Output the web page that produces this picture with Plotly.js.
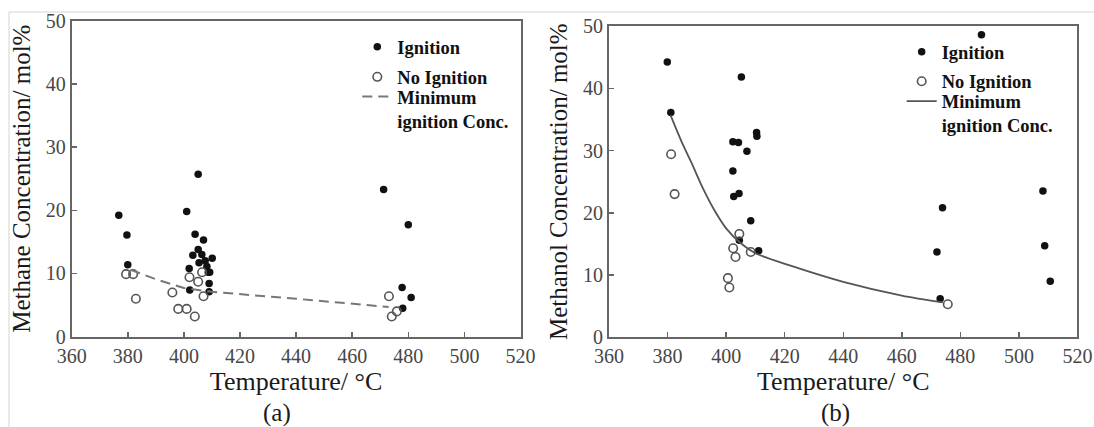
<!DOCTYPE html>
<html>
<head>
<meta charset="utf-8">
<script src="https://cdn.plot.ly/plotly-3.0.1.min.js"></script>
<style>html,body{margin:0;padding:0;background:#fff;}#chart{width:1094px;height:427px;}</style>
</head>
<body>
<div id="chart"></div>
<script>
// ---- Data ----
// (a) Methane
var methaneIgnitionT = [376.8, 379.7, 380.0, 401.0, 405.1, 404.0, 407.0, 403.2, 405.1, 406.4, 405.4, 407.6, 410.1, 408.2, 408.7, 409.2, 401.9, 409.0, 402.1, 409.0, 471.2, 480.0, 477.8, 481.0, 478.0];
var methaneIgnitionC = [19.2, 16.1, 11.4, 19.8, 25.7, 16.2, 15.3, 12.9, 13.8, 13.0, 11.7, 12.0, 12.4, 11.1, 10.2, 10.2, 10.8, 8.4, 7.4, 7.1, 23.3, 17.7, 7.8, 6.2, 4.5];
var methaneNoIgnitionT = [379.4, 381.9, 382.9, 395.9, 398.0, 401.0, 403.9, 402.0, 405.1, 406.5, 407.0, 473.1, 474.1, 475.9];
var methaneNoIgnitionC = [9.9, 9.9, 6.0, 7.0, 4.4, 4.4, 3.2, 9.4, 8.7, 10.2, 6.4, 6.4, 3.2, 4.0];
var methaneMinT = [381, 390, 400, 410, 440, 473];
var methaneMinC = [10.6, 9.1, 7.7, 7.1, 6.0, 4.7];

// (b) Methanol
var methanolIgnitionT = [379.9, 381.1, 405.2, 487.2, 402.3, 404.2, 407.1, 410.4, 410.5, 402.3, 402.6, 404.4, 408.4, 404.5, 411.1, 473.9, 472.0, 473.1, 508.2, 508.8, 510.7];
var methanolIgnitionC = [44.2, 36.1, 41.8, 48.6, 31.4, 31.3, 29.9, 32.9, 32.3, 26.7, 22.6, 23.1, 18.7, 15.6, 13.9, 20.8, 13.7, 6.2, 23.5, 14.7, 9.0];
var methanolNoIgnitionT = [381.2, 382.4, 404.5, 402.4, 403.2, 408.4, 400.6, 401.1, 475.7];
var methanolNoIgnitionC = [29.4, 23.0, 16.6, 14.3, 12.9, 13.7, 9.5, 8.0, 5.3];
var methanolMinT = [381, 385, 388, 392, 396, 400, 405, 410, 422, 440, 460, 474];
var methanolMinC = [35.7, 31.2, 28.2, 24.0, 20.4, 17.5, 15.1, 13.5, 11.5, 8.9, 6.7, 5.6];

var xTicks = [360, 380, 400, 420, 440, 460, 480, 500, 520];
var yTicks = [0, 10, 20, 30, 40, 50];
var legendNames = ['Ignition', 'No Ignition', 'Minimum<br>ignition Conc.'];

// ---- Styles ----
var serif = 'Liberation Serif, Times New Roman, serif';
var filledMarker = {symbol: 'circle', size: 7.5, color: '#111', line: {width: 0}};
var openMarker = {symbol: 'circle-open', size: 8.5, color: '#555', line: {width: 1.6, color: '#555'}};

var traces = [
  {type: 'scatter', mode: 'markers', x: methaneIgnitionT, y: methaneIgnitionC, name: legendNames[0],
   marker: filledMarker, xaxis: 'x', yaxis: 'y', legend: 'legend'},
  {type: 'scatter', mode: 'markers', x: methaneNoIgnitionT, y: methaneNoIgnitionC, name: legendNames[1],
   marker: openMarker, xaxis: 'x', yaxis: 'y', legend: 'legend2'},
  {type: 'scatter', mode: 'lines', x: methaneMinT, y: methaneMinC, name: legendNames[2],
   line: {color: '#777', width: 2, dash: '10px,6px'}, xaxis: 'x', yaxis: 'y', legend: 'legend3'},
  {type: 'scatter', mode: 'markers', x: methanolIgnitionT, y: methanolIgnitionC, name: legendNames[0],
   marker: filledMarker, xaxis: 'x2', yaxis: 'y2', legend: 'legend4'},
  {type: 'scatter', mode: 'markers', x: methanolNoIgnitionT, y: methanolNoIgnitionC, name: legendNames[1],
   marker: openMarker, xaxis: 'x2', yaxis: 'y2', legend: 'legend5'},
  {type: 'scatter', mode: 'lines', x: methanolMinT, y: methanolMinC, name: legendNames[2],
   line: {color: '#555', width: 1.8, shape: 'spline', smoothing: 0.8}, xaxis: 'x2', yaxis: 'y2', legend: 'legend6'}
];

function xAxis(domain, anchor) {
  return {
    domain: domain, anchor: anchor, range: [360, 520], tickvals: xTicks, ticktext: xTicks.map(String),
    ticks: 'inside', ticklen: 5, tickwidth: 1.5, tickcolor: '#666',
    showline: true, mirror: true, linecolor: '#666', linewidth: 2,
    showgrid: false, zeroline: false,
    tickfont: {family: serif, size: 20, color: '#474747'},
    title: {text: 'Temperature/ °C', font: {family: serif, size: 26, color: '#1a1a1a'}, standoff: 5}
  };
}
function yAxis(domain, anchor, title) {
  return {
    domain: domain, anchor: anchor, range: [0, 50], tickvals: yTicks, ticktext: yTicks.map(String),
    ticks: 'inside', ticklen: 5, tickwidth: 1.5, tickcolor: '#666',
    showline: true, mirror: true, linecolor: '#666', linewidth: 2,
    showgrid: false, zeroline: false,
    tickfont: {family: serif, size: 20, color: '#474747'},
    title: {text: title, font: {family: serif, size: 25, color: '#1a1a1a'}, standoff: 8}
  };
}

var legendStyle = function (x, y) {
  return {
    x: x, y: y, xanchor: 'left', yanchor: 'middle', bgcolor: 'rgba(255,255,255,0)', borderwidth: 0,
    font: {family: serif, size: 18.5, color: '#111', weight: 'bold'},
    valign: 'top', itemclick: false, itemdoubleclick: false
  };
};

var layout = {
  width: 1094, height: 427,
  margin: {l: 0, r: 0, t: 0, b: 0, pad: 0},
  paper_bgcolor: '#fff', plot_bgcolor: '#fff',
  showlegend: true,
  xaxis: xAxis([0.0655, 0.4758], 'y'),
  yaxis: yAxis([0.2115, 0.9515], 'x', 'Methane Concentration/ mol%'),
  xaxis2: xAxis([0.5567, 0.9849], 'y2'),
  yaxis2: yAxis([0.2101, 0.9391], 'x2', 'Methanol Concentration/ mol%'),
  legend: legendStyle(0.3266, 0.8892),
  legend2: legendStyle(0.3266, 0.8190),
  legend3: legendStyle(0.3266, 0.7450),
  legend4: legendStyle(0.8242, 0.8775),
  legend5: legendStyle(0.8242, 0.8087),
  legend6: legendStyle(0.8242, 0.7340),
  annotations: [
    {text: '(a)', xref: 'paper', yref: 'paper', x: 0.2535, y: 0.033, xanchor: 'center', yanchor: 'middle',
     showarrow: false, font: {family: serif, size: 25, color: '#1a1a1a'}},
    {text: '(b)', xref: 'paper', yref: 'paper', x: 0.7633, y: 0.033, xanchor: 'center', yanchor: 'middle',
     showarrow: false, font: {family: serif, size: 25, color: '#1a1a1a'}}
  ],
  shapes: [
    {type: 'line', xref: 'paper', yref: 'paper', x0: 9 / 1094, x1: 1, y0: 1 - 12 / 427, y1: 1 - 12 / 427,
     line: {color: '#d4d4d4', width: 1}},
    {type: 'line', xref: 'paper', yref: 'paper', x0: 9 / 1094, x1: 9 / 1094, y0: 0, y1: 1 - 12 / 427,
     line: {color: '#d4d4d4', width: 1}}
  ]
};

Plotly.newPlot('chart', traces, layout, {displayModeBar: false, staticPlot: true});
</script>
</body>
</html>
